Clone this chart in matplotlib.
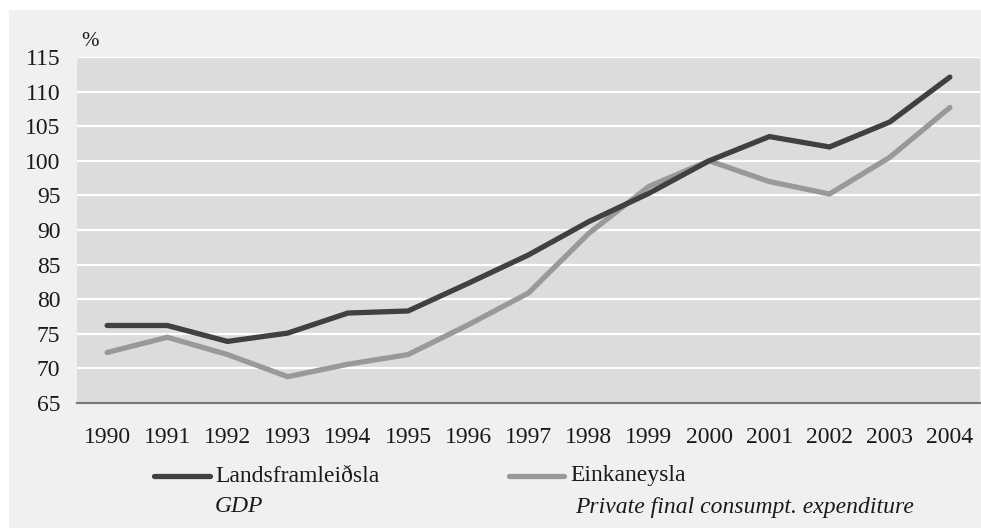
import matplotlib.pyplot as plt
from matplotlib.patches import Rectangle
from matplotlib.lines import Line2D

years = [1990, 1991, 1992, 1993, 1994, 1995, 1996, 1997, 1998, 1999,
         2000, 2001, 2002, 2003, 2004]
gdp = [76.2, 76.2, 73.9, 75.1, 78.0, 78.3, 82.3, 86.4, 91.2, 95.3,
       100.0, 103.5, 102.0, 105.6, 112.1]
private = [72.3, 74.5, 72.0, 68.8, 70.6, 72.0, 76.3, 80.9, 89.5, 96.3,
           100.0, 97.0, 95.2, 100.5, 107.7]
yticks = list(range(65, 116, 5))

dark = '#404040'
light = '#999999'
txt = '#1a1a1a'
fs = 17

plt.rcParams['font.family'] = ['Liberation Serif', 'DejaVu Serif']

W, H = 981, 528
fig = plt.figure(figsize=(W / 100, H / 100), dpi=100)
fig.patch.set_facecolor('white')
fig.add_artist(Rectangle((9 / W, 0), 1 - 9 / W, 1 - 10 / H,
                         transform=fig.transFigure, facecolor='#f0f0f0',
                         edgecolor='none', zorder=0))

ax = fig.add_axes([77 / W, 1 - 403 / H, 903 / W, 346 / H])
ax.set_facecolor('#dcdcdc')
x = list(range(len(years)))
ax.plot(x, gdp, color=dark, lw=3.8, solid_capstyle='round', solid_joinstyle='miter', zorder=3)
ax.plot(x, private, color=light, lw=3.8, solid_capstyle='round', solid_joinstyle='miter', zorder=2)

ax.set_xlim(-0.5, len(years) - 0.5)
ax.set_ylim(65, 115)
ax.set_yticks(yticks)
ax.set_yticklabels([str(v) for v in yticks], fontsize=fs, color=txt)
ax.set_xticks(x)
ax.set_xticklabels([str(y) for y in years], fontsize=fs, color=txt)
ax.tick_params(axis='y', length=0, pad=12)
ax.tick_params(axis='x', length=0, pad=17)
ax.grid(axis='y', color='white', lw=1.6)
ax.set_axisbelow(True)
for s in ['top', 'right', 'left']:
    ax.spines[s].set_visible(False)
ax.spines['bottom'].set_color('#7a7a7a')
ax.spines['bottom'].set_linewidth(1.6)

fig.text(81 / W, 1 - 42 / H, '%', fontsize=15, va='center', ha='left', color=txt)

# legend
ly = 1 - 476 / H
fig.add_artist(Line2D([154 / W, 210 / W], [ly, ly], transform=fig.transFigure,
                      color=dark, lw=3.8, solid_capstyle='round'))
fig.text(215 / W, ly, 'Landsframleiðsla', fontsize=fs, va='center', ha='left', color=txt)
fig.text(215 / W, 1 - 507 / H, 'GDP', fontsize=fs, style='italic', va='center', ha='left', color=txt)
fig.add_artist(Line2D([509 / W, 564 / W], [ly, ly], transform=fig.transFigure,
                      color=light, lw=3.8, solid_capstyle='round'))
fig.text(570 / W, ly, 'Einkaneysla', fontsize=fs, va='center', ha='left', color=txt)
fig.text(575 / W, 1 - 507 / H, 'Private final consumpt. expenditure', fontsize=fs,
         style='italic', va='center', ha='left', color=txt)

fig.savefig('out.png', dpi=100)
